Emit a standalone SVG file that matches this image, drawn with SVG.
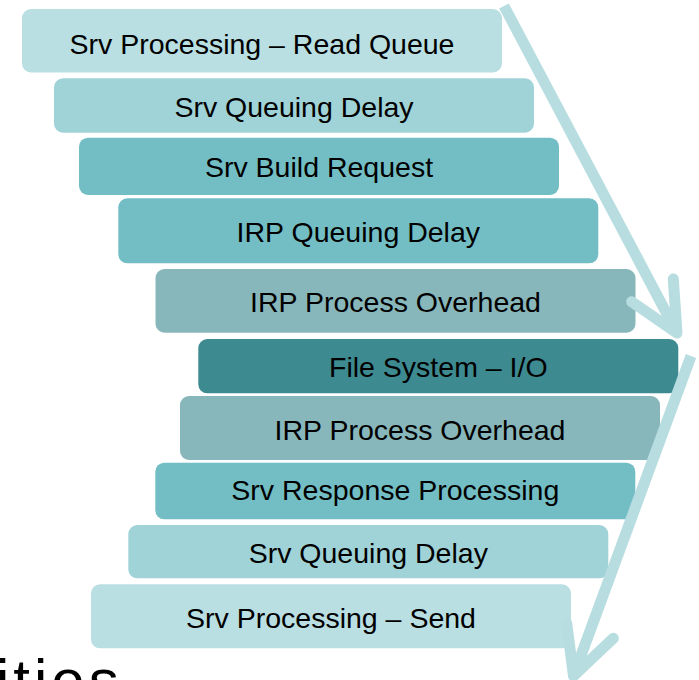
<svg xmlns="http://www.w3.org/2000/svg" width="699" height="680" viewBox="0 0 699 680">
<style>
.bx{stroke:none}
.c1{fill:#b9dfe2}
.c2{fill:#a0d3d7}
.c3{fill:#72bec4}
.c4{fill:#88b7bb}
.c5{fill:#3d8a90}
.t{font-family:"Liberation Sans","Open Sans",sans-serif;font-size:28.5px;fill:#000;text-anchor:middle}
.arr{stroke:#b8dde0;fill:none;stroke-width:11}
.arm{stroke-linecap:round;stroke-linejoin:round}
</style>
<rect width="699" height="680" fill="#fff"/>
<g id="n1"><rect class="bx c1" x="22" y="9" width="480" height="63.5" rx="9"/><text class="t" x="262" y="53.5">Srv Processing – Read Queue</text></g>
<g id="n2"><rect class="bx c2" x="54" y="78.3" width="480" height="54.4" rx="9"/><text class="t" x="294" y="116.5">Srv Queuing Delay</text></g>
<g id="n3"><rect class="bx c3" x="79" y="137.7" width="480" height="57.3" rx="9"/><text class="t" x="319" y="176.5">Srv Build Request</text></g>
<g id="n4"><rect class="bx c3" x="118.3" y="198.3" width="480" height="65" rx="9"/><text class="t" x="358.3" y="242">IRP Queuing Delay</text></g>
<g id="n5"><rect class="bx c4" x="155.5" y="269" width="480" height="63.7" rx="9"/><text class="t" x="395.5" y="312">IRP Process Overhead</text></g>
<g id="n6"><rect class="bx c5" x="198.3" y="339" width="480" height="54.3" rx="9"/><text class="t" x="438.3" y="377">File System – I/O</text></g>
<g id="n7"><rect class="bx c4" x="180" y="396" width="480" height="64" rx="9"/><text class="t" x="420" y="440">IRP Process Overhead</text></g>
<g id="n8"><rect class="bx c3" x="155.3" y="462.7" width="480" height="56.6" rx="9"/><text class="t" x="395.3" y="500">Srv Response Processing</text></g>
<g id="n9"><rect class="bx c2" x="128.3" y="525" width="480" height="53.3" rx="9"/><text class="t" x="368.3" y="563">Srv Queuing Delay</text></g>
<g id="n10"><rect class="bx c1" x="91" y="584.3" width="480" height="64" rx="9"/><text class="t" x="331" y="627.5">Srv Processing – Send</text></g>
<g id="connectors">
<line class="arr" x1="504" y1="6" x2="677" y2="333"/>
<polyline class="arr arm" points="631.7,301.7 677,333 673.3,279"/>
<line class="arr" x1="691" y1="356" x2="573.5" y2="676"/>
<polyline class="arr arm" points="566.7,623.3 573.5,676 613.3,638.3"/>
</g>
<text x="-4" y="701" style="font-family:'Liberation Sans','Open Sans',sans-serif;font-size:60px;letter-spacing:4px;fill:#000">ities</text>
</svg>
